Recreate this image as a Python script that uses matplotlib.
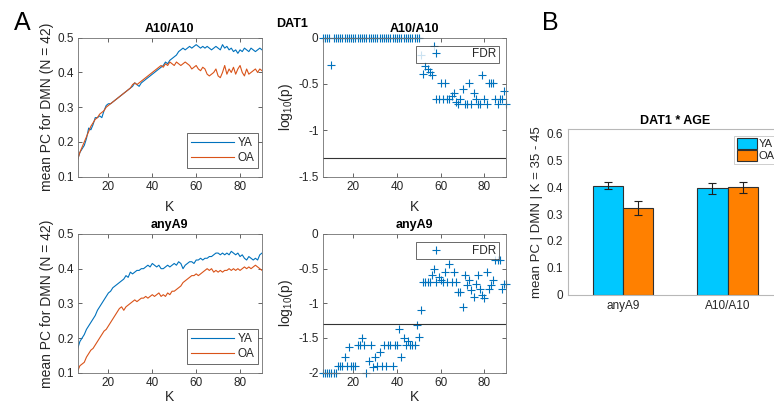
import matplotlib
matplotlib.use("Agg")
import matplotlib.pyplot as plt
import numpy as np

plt.rcParams['font.family'] = ['Liberation Sans', 'DejaVu Sans']
plt.rcParams['mathtext.fontset'] = 'custom'
plt.rcParams['mathtext.rm'] = 'Liberation Sans'
plt.rcParams['mathtext.it'] = 'Liberation Sans:italic'

BLUE = '#0072BD'
ORANGE = '#D95319'
AXC = '#262626'

# K values 6..90
K = np.arange(6, 91)

ya_a10 = [0.15, 0.17, 0.18, 0.19, 0.21, 0.24, 0.235, 0.25, 0.27, 0.27,
          0.275, 0.27, 0.29, 0.305, 0.31, 0.31, 0.315, 0.32, 0.325, 0.33,
          0.335, 0.34, 0.345, 0.35, 0.355, 0.36, 0.37, 0.365, 0.36, 0.37,
          0.375, 0.38, 0.385, 0.39, 0.395, 0.40, 0.405, 0.41, 0.415, 0.42,
          0.43, 0.425, 0.435, 0.44, 0.445, 0.45, 0.46, 0.465, 0.47, 0.465,
          0.47, 0.475, 0.47, 0.475, 0.48, 0.475, 0.47, 0.475, 0.47, 0.475,
          0.47, 0.465, 0.47, 0.475, 0.47, 0.465, 0.48, 0.47, 0.475, 0.465,
          0.47, 0.46, 0.465, 0.455, 0.465, 0.46, 0.47, 0.465, 0.46, 0.47,
          0.465, 0.46, 0.465, 0.47, 0.465]
oa_a10 = [0.15, 0.17, 0.185, 0.20, 0.215, 0.23, 0.245, 0.255, 0.265, 0.27,
          0.28, 0.285, 0.29, 0.30, 0.305, 0.31, 0.315, 0.32, 0.325, 0.33,
          0.335, 0.34, 0.345, 0.35, 0.355, 0.365, 0.37, 0.365, 0.37, 0.375,
          0.38, 0.385, 0.39, 0.395, 0.40, 0.405, 0.41, 0.415, 0.42, 0.415,
          0.425, 0.42, 0.43, 0.425, 0.42, 0.43, 0.425, 0.42, 0.425, 0.43,
          0.425, 0.42, 0.41, 0.415, 0.42, 0.41, 0.405, 0.415, 0.41, 0.395,
          0.39, 0.395, 0.40, 0.41, 0.39, 0.385, 0.40, 0.42, 0.395, 0.41,
          0.40, 0.415, 0.395, 0.41, 0.42, 0.40, 0.39, 0.41, 0.395, 0.40,
          0.405, 0.41, 0.40, 0.41, 0.405]
ya_a9 = [0.17, 0.19, 0.20, 0.21, 0.225, 0.235, 0.245, 0.255, 0.265, 0.28,
         0.29, 0.30, 0.31, 0.32, 0.33, 0.335, 0.345, 0.35, 0.355, 0.36,
         0.365, 0.37, 0.38, 0.375, 0.39, 0.385, 0.39, 0.395, 0.395, 0.40,
         0.40, 0.405, 0.41, 0.405, 0.415, 0.41, 0.405, 0.41, 0.40, 0.40,
         0.405, 0.41, 0.405, 0.41, 0.415, 0.41, 0.42, 0.415, 0.40, 0.41,
         0.415, 0.42, 0.42, 0.415, 0.425, 0.425, 0.43, 0.425, 0.43, 0.43,
         0.435, 0.435, 0.44, 0.445, 0.445, 0.44, 0.445, 0.44, 0.445, 0.44,
         0.45, 0.445, 0.44, 0.445, 0.435, 0.44, 0.43, 0.425, 0.435, 0.43,
         0.425, 0.43, 0.425, 0.44, 0.445]
oa_a9 = [0.105, 0.12, 0.125, 0.13, 0.145, 0.155, 0.165, 0.17, 0.18, 0.19,
         0.20, 0.21, 0.22, 0.225, 0.235, 0.245, 0.255, 0.265, 0.275, 0.285,
         0.29, 0.28, 0.29, 0.295, 0.30, 0.305, 0.31, 0.305, 0.31, 0.315,
         0.315, 0.32, 0.315, 0.32, 0.325, 0.32, 0.325, 0.33, 0.32, 0.325,
         0.32, 0.33, 0.325, 0.335, 0.335, 0.34, 0.345, 0.35, 0.36, 0.365,
         0.37, 0.375, 0.38, 0.38, 0.385, 0.38, 0.385, 0.39, 0.395, 0.40,
         0.395, 0.40, 0.39, 0.395, 0.39, 0.395, 0.39, 0.395, 0.395, 0.40,
         0.395, 0.40, 0.395, 0.40, 0.395, 0.40, 0.405, 0.40, 0.405, 0.40,
         0.405, 0.41, 0.405, 0.40, 0.395]

# log10(p), FDR corrected
p_a10 = [0, 0, 0, 0, -0.30, 0, 0, 0, 0, 0,
         0, 0, 0, 0, 0, 0, 0, 0, 0, 0,
         0, 0, 0, 0, 0, 0, 0, 0, 0, 0,
         0, 0, 0, 0, 0, 0, 0, 0, 0, 0,
         0, 0, 0, 0, 0, -0.19, -0.39, -0.31, -0.34, -0.37,
         -0.40, -0.09, -0.66, -0.66, -0.49, -0.66, -0.49, -0.66, -0.66, -0.63,
         -0.60, -0.69, -0.72, -0.66, -0.55, -0.72, -0.72, -0.49, -0.72, -0.60,
         -0.66, -0.72, -0.72, -0.40, -0.66, -0.72, -0.49, -0.49, -0.49, -0.66,
         -0.72, -0.66, -0.66, -0.58, -0.72]
p_a9 = [-2, -2, -2, -2, -2, -2, -2, -1.91, -1.91, -1.91,
        -1.78, -1.91, -1.63, -1.91, -1.91, -1.91, -1.60, -1.60, -1.50, -1.60,
        -2.0, -1.83, -1.60, -1.92, -1.78, -1.90, -1.70, -1.90, -1.60, -1.90,
        -1.60, -1.60, -1.90, -1.60, -1.60, -1.37, -1.78, -1.50, -1.60, -1.55,
        -1.60, -1.60, -1.60, -1.32, -1.49, -1.10, -0.69, -0.69, -0.69, -0.69,
        -0.59, -0.50, -0.69, -0.62, -0.67, -0.69, -0.55, -0.70, -0.43, -0.70,
        -0.55, -0.69, -0.84, -0.84, -1.05, -0.59, -0.74, -0.67, -0.81, -0.91,
        -0.72, -0.59, -0.79, -0.88, -0.93, -0.55, -0.79, -0.74, -0.67, -0.38,
        -0.38, -0.38, -0.79, -0.72, -0.72]
p_thresh = np.log10(0.05)

# bar chart
groups = ['anyA9', 'A10/A10']
bar_ya = [0.405, 0.396]
bar_oa = [0.322, 0.399]
err_ya = [0.013, 0.020]
err_oa = [0.027, 0.021]

W, H = 774, 404
fig = plt.figure(figsize=(W / 100, H / 100), dpi=100)


def px(l, t, r, b):
    return [l / W, 1 - b / H, (r - l) / W, (b - t) / H]


def style(ax):
    ax.tick_params(direction='in', length=3, width=0.5, colors=AXC,
                   labelsize=8.5, top=True, right=True, pad=3)
    for s in ax.spines.values():
        s.set_linewidth(0.6)
        s.set_color('#707070')


def line_panel(ax, ya, oa, title, xpad=5):
    ax.plot(K, ya, color=BLUE, lw=0.8, label='YA')
    ax.plot(K, oa, color=ORANGE, lw=0.8, label='OA')
    ax.set_xlim(6, 90)
    ax.set_ylim(0.1, 0.5)
    ax.set_xticks([20, 40, 60, 80])
    ax.set_yticks([0.1, 0.2, 0.3, 0.4, 0.5])
    ax.set_title(title, fontsize=9, fontweight='bold', pad=4)
    ax.set_xlabel('K', fontsize=10, color=AXC, labelpad=xpad)
    ax.set_ylabel('mean PC for DMN (N = 42)', fontsize=10, color=AXC, labelpad=2)
    style(ax)
    leg = ax.legend(loc='lower right', bbox_to_anchor=(0.98, 0.06),
                    fontsize=8.5, frameon=True, fancybox=False,
                    edgecolor=AXC, handlelength=3.6, borderaxespad=0,
                    labelspacing=0.25, handletextpad=0.3, borderpad=0.35)
    leg.get_frame().set_linewidth(0.6)
    for t in leg.get_texts():
        t.set_color(AXC)


def p_panel(ax, p, title, ylim, yticks, xpad=5):
    ax.plot(K, p, linestyle='none', marker='+', ms=6, mew=0.8, color=BLUE,
            label='FDR', clip_on=False)
    ax.axhline(p_thresh, color='#333333', lw=0.8)
    ax.set_xlim(6, 90)
    ax.set_ylim(*ylim)
    ax.set_xticks([20, 40, 60, 80])
    ax.set_yticks(yticks)
    ax.set_yticklabels(['%g' % v for v in yticks])
    ax.set_title(title, fontsize=9, fontweight='bold', pad=4)
    ax.set_xlabel('K', fontsize=10, color=AXC, labelpad=xpad)
    ax.set_ylabel(r'log$_{\mathrm{10}}$(p)', fontsize=10, color=AXC, labelpad=2)
    style(ax)
    leg = ax.legend(loc='upper right', bbox_to_anchor=(0.96, 0.94),
                    fontsize=8.5, frameon=True, fancybox=False,
                    edgecolor=AXC, handlelength=3.0, borderaxespad=0,
                    handletextpad=1.6, borderpad=0.2)
    leg.get_frame().set_linewidth(0.6)
    for t in leg.get_texts():
        t.set_color(AXC)


ax1 = fig.add_axes(px(77.7, 37.7, 262, 176.7))
line_panel(ax1, ya_a10, oa_a10, 'A10/A10')
ax2 = fig.add_axes(px(322.7, 37.7, 506.3, 176.5))
p_panel(ax2, p_a10, 'A10/A10', (-1.5, 0), [-1.5, -1, -0.5, 0])
ax3 = fig.add_axes(px(77.7, 234, 262, 372.7))
line_panel(ax3, ya_a9, oa_a9, 'anyA9', xpad=1)
ax4 = fig.add_axes(px(322.7, 234, 506.3, 372.5))
p_panel(ax4, p_a9, 'anyA9', (-2, 0), [-2, -1.5, -1, -0.5, 0], xpad=1)

# bar panel B
ax5 = fig.add_axes(px(568.3, 129.3, 782, 294.7))
x = np.arange(1, len(groups) + 1)
bw = 0.2875
ax5.bar(x - bw / 2, bar_ya, bw, color='#00C8FF', edgecolor='#303030',
        lw=0.8, label='YA')
ax5.bar(x + bw / 2, bar_oa, bw, color='#FF8000', edgecolor='#303030',
        lw=0.8, label='OA')
ax5.errorbar(x - bw / 2, bar_ya, yerr=err_ya, fmt='none', ecolor='#202020',
             elinewidth=0.8, capsize=3, capthick=0.8)
ax5.errorbar(x + bw / 2, bar_oa, yerr=err_oa, fmt='none', ecolor='#202020',
             elinewidth=0.8, capsize=3, capthick=0.8)
ax5.set_xlim(0.48, 2.52)
ax5.set_ylim(0, 0.615)
ax5.set_xticks(x)
ax5.set_xticklabels(groups)
ax5.set_yticks([0, 0.1, 0.2, 0.3, 0.4, 0.5, 0.6])
ax5.set_yticklabels(['0', '0.1', '0.2', '0.3', '0.4', '0.5', '0.6'])
ax5.set_title('DAT1 * AGE', fontsize=9, fontweight='bold', pad=4)
ax5.set_ylabel('mean PC | DMN | K = 35 - 45', fontsize=9.5, color=AXC, labelpad=2)
ax5.tick_params(direction='in', length=0, colors=AXC, labelsize=8.5, pad=4)
for s in ax5.spines.values():
    s.set_linewidth(0.8)
    s.set_color('#b8b8b8')
leg = ax5.legend(loc='upper left', bbox_to_anchor=(0.777, 0.96), fontsize=8,
                 frameon=True, fancybox=False, edgecolor='#b8b8b8',
                 borderaxespad=0, borderpad=0.2, handlelength=1.8,
                 handleheight=1.1, handletextpad=0.15, labelspacing=0.1)
leg.get_frame().set_linewidth(0.6)
for t in leg.get_texts():
    t.set_color(AXC)

fig.text(22 / W, 1 - 23 / H, 'A', fontsize=18, ha='center', va='center')
fig.text(550 / W, 1 - 23 / H, 'B', fontsize=18, ha='center', va='center')
fig.text(276 / W, 1 - 24 / H, 'DAT1', fontsize=9, fontweight='bold',
         ha='left', va='center')

fig.savefig('out.png', dpi=100)
